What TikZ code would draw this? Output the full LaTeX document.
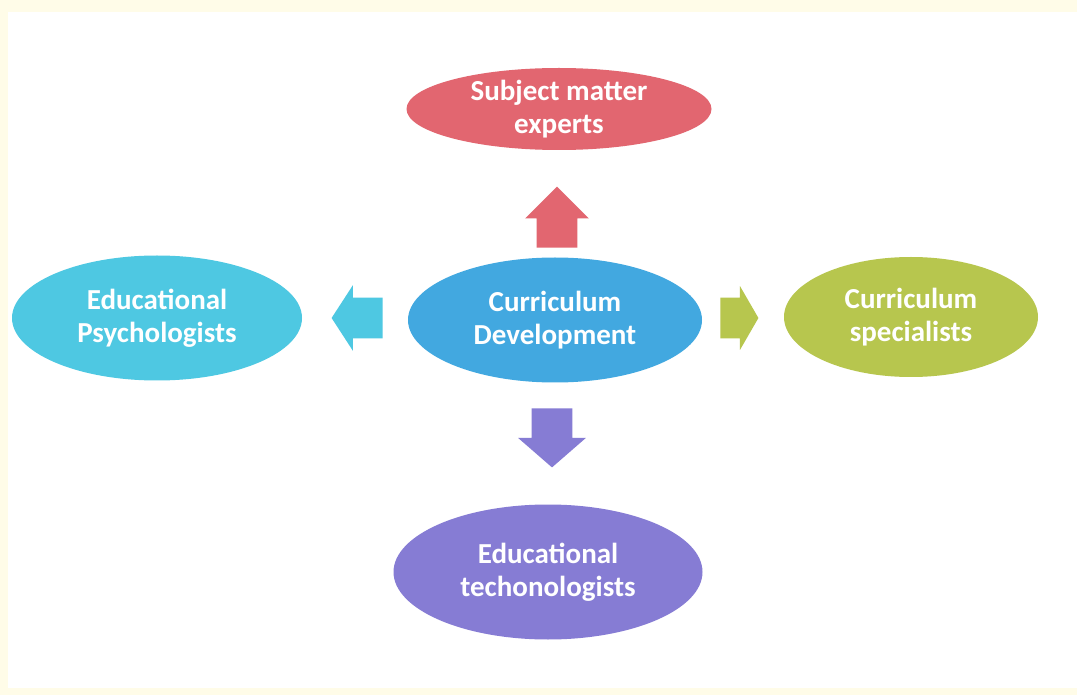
\documentclass[tikz,border=0pt]{standalone}
\usepackage{fontspec}
\setmainfont{Carlito}
\usetikzlibrary{shapes.geometric,shapes.arrows}
\definecolor{cream}{RGB}{255,252,232}
\definecolor{subj}{RGB}{226,102,112}
\definecolor{curr}{RGB}{66,168,224}
\definecolor{psych}{RGB}{78,200,226}
\definecolor{spec}{RGB}{183,198,78}
\definecolor{tech}{RGB}{134,124,212}
\tikzset{
    blob/.style={ellipse,inner sep=0pt,text=white,align=center,
        font=\bfseries\fontsize{14.5}{16.5}\selectfont},
    blockarrow/.style={single arrow,inner xsep=0pt,inner ysep=10pt,anchor=tail,draw=none}
}
\begin{document}
\begin{tikzpicture}[x=0.5pt,y=-0.5pt]
        \fill[cream] (0,0) rectangle (1077,695);
        \fill[white] (8,12) rectangle (1077,688);
        % the five ellipses
        \foreach \nm/\col/\x/\y/\w/\h/\txt in {
            cd/curr/555/320/147/62.5/{Curriculum\\Development},
            sme/subj/559/109/152.5/41/{Subject matter\\experts},
            ep/psych/157/318/145/62.5/{Educational\\Psychologists},
            cs/spec/911/317/127/60/{Curriculum\\specialists},
            et/tech/548/572/154.5/67.5/{Educational\\techonologists}}{
            \node[blob,fill=\col,minimum width=\w,minimum height=\h] (\nm) at (\x,\y) {\txt};
        }
        % block arrows out of the centre
        \node[blockarrow,fill=subj,rotate=90,minimum height=30.5pt,
            single arrow head extend=5.75pt,single arrow tip angle=90] (up) at (557,248) {};
        \node[blockarrow,fill=psych,rotate=180,minimum height=25.5pt,
            single arrow head extend=6.25pt,single arrow tip angle=114] (lt) at (383,318) {};
        \node[blockarrow,fill=spec,minimum height=19pt,
            single arrow head extend=5.75pt,single arrow tip angle=120] (rt) at (720,318) {};
        \node[blockarrow,fill=tech,rotate=-90,minimum height=29.5pt,
            single arrow head extend=6.75pt,single arrow tip angle=98] (dn) at (552,408) {};
    \end{tikzpicture}
\end{document}
